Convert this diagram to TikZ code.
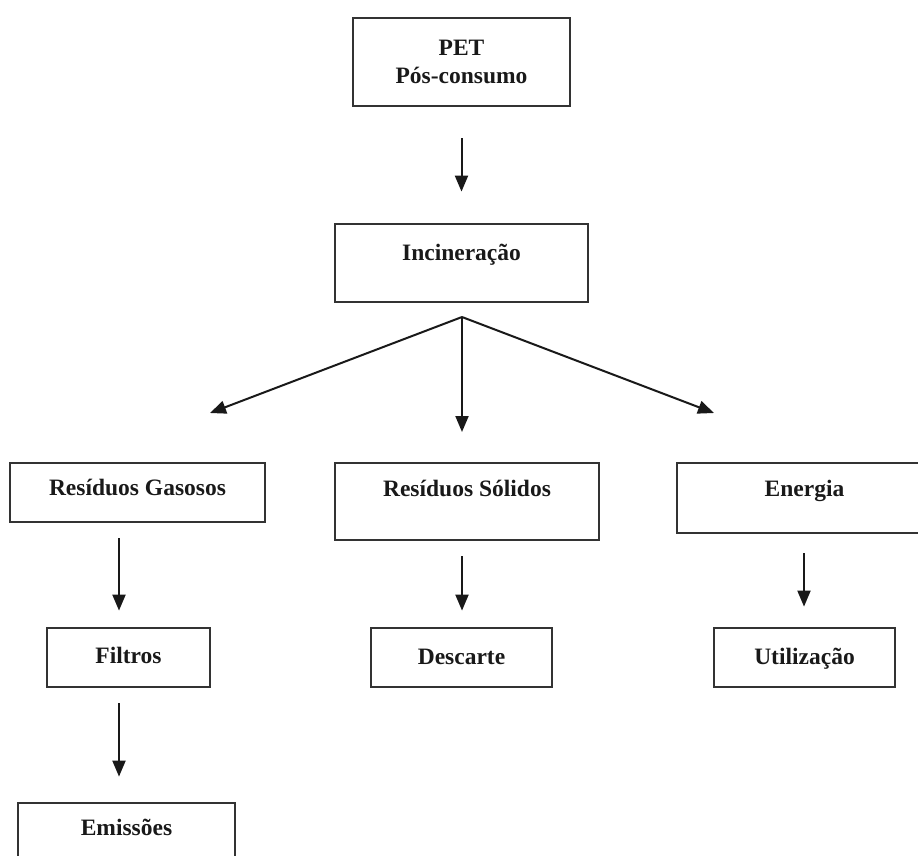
\documentclass[tikz,border=0pt]{standalone}
\usepackage{fontspec}
\setmainfont{Liberation Serif}
\usetikzlibrary{arrows.meta}
\begin{document}
\begin{tikzpicture}[x=1pt,y=-1pt,
  box/.style={draw=black!80, line width=2.8pt, rectangle, inner sep=0pt,
    font=\bfseries\fontsize{23.5}{28}\selectfont, text=black!90, text height=16pt},
  arr/.style={draw=black!90, line width=2pt, -{Triangle[length=16pt,width=13pt]}}]
\useasboundingbox (0,0) rectangle (918,855);
\clip (0,0) rectangle (918,855);
\node[box, minimum width=217pt, minimum height=88pt, align=center, text height=, text depth=] (pet) at (461.5,62) {PET\\Pós-consumo};
\node[box, minimum width=253pt, minimum height=78pt, text depth=21pt] (inc) at (461.5,263) {Incineração};
\node[box, minimum width=255pt, minimum height=59pt, text depth=10pt] (rg) at (137.5,492.5) {Resíduos Gasosos};
\node[box, minimum width=264pt, minimum height=77pt, text depth=26pt] (rs) at (467,501.5) {Resíduos Sólidos};
\node[box, minimum width=255pt, minimum height=70pt, text depth=19pt] (en) at (804.5,498) {Energia};
\node[box, minimum width=163pt, minimum height=59pt, text depth=4pt] (fil) at (128.5,657.5) {Filtros};
\node[box, minimum width=181pt, minimum height=59pt, text depth=2pt] (des) at (461.5,657.5) {Descarte};
\node[box, minimum width=181pt, minimum height=59pt, text depth=2pt] (uti) at (804.5,657.5) {Utilização};
\node[box, minimum width=217pt, minimum height=60pt, text depth=11pt] (emi) at (126.5,833) {Emissões};
\coordinate (split) at (462,317);
\coordinate (tl) at (210,413);
\coordinate (tm) at (462,432);
\coordinate (tr) at (714,413);
\draw[arr] ([yshift=-31pt]pet.south) -- ([yshift=31pt]inc.north);
\draw[arr] (split) -- (tl);
\draw[arr] (split) -- (tm);
\draw[arr] (split) -- (tr);
\draw[arr] ([xshift=-18.5pt,yshift=-15pt]rg.south) -- ([xshift=-9.5pt,yshift=16pt]fil.north);
\draw[arr] ([xshift=-9.5pt,yshift=-15pt]fil.south) -- ([xshift=-7.5pt,yshift=25pt]emi.north);
\draw[arr] ([xshift=-5pt,yshift=-15pt]rs.south) -- ([xshift=0.5pt,yshift=16pt]des.north);
\draw[arr] ([xshift=-0.5pt,yshift=-19pt]en.south) -- ([xshift=-0.5pt,yshift=20pt]uti.north);
\end{tikzpicture}
\end{document}
